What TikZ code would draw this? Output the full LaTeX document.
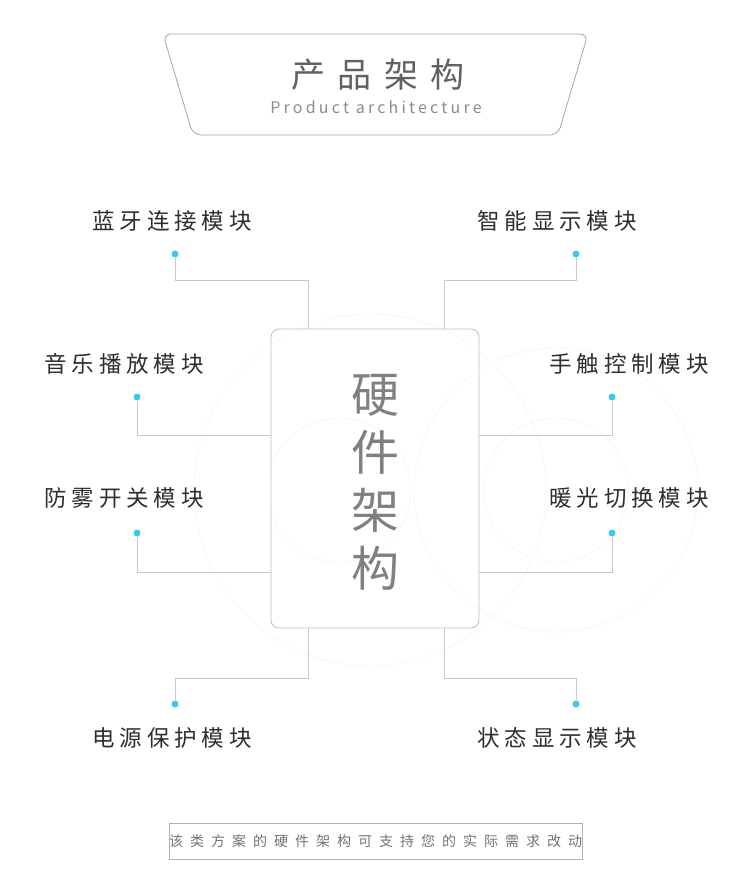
\documentclass[tikz,border=0pt]{standalone}
\usepackage{fontspec}
\newfontfamily\cjk{Noto Sans CJK SC}
\newfontfamily\cjks[LetterSpace=22]{Noto Sans CJK SC}
\newfontfamily\cjkf[LetterSpace=50]{Noto Sans CJK SC}
\newfontfamily\cjkw[LetterSpace=36]{Noto Sans CJK SC}
\newfontfamily\latw[LetterSpace=20]{Noto Sans CJK SC}
\begin{document}
\begin{tikzpicture}[x=1pt,y=-1pt,
  conn/.style={draw=black!22,line width=0.7pt},
  lbl/.style={font=\cjks\fontsize{22.5}{24}\selectfont,text=black!82,inner sep=0},
  dotc/.style={draw=none,circle,minimum size=7pt,inner sep=0}]
\definecolor{dot}{HTML}{3CC8E8}
\useasboundingbox[fill=white] (0,0) rectangle (750,885);
% watermark
\begin{scope}[draw=black!3,line width=0.8pt]
\draw (370,490) circle (176);
\draw (339,490) circle (72);
\draw (556,490) circle (72);
\draw (556,490) circle (142);
\end{scope}
% title shape
\draw[black!35,line width=0.8pt,rounded corners=8] (163,34) -- (588,34) -- (558,135) -- (193,135) -- cycle;
\node[font=\cjkw\fontsize{34}{36}\selectfont,text=black!62,inner sep=0] (t1) at (378,75) {产品架构};
\node[font=\latw\fontsize{16}{18}\selectfont,text=black!45,inner sep=0] (t2) at (376,107) {Product architecture};
% center box
\node[draw=black!25,line width=0.8pt,rounded corners=8,minimum width=208,minimum height=299,inner sep=0] (box) at (375,478.5) {};
\node[font=\cjk\fontsize{48}{60}\selectfont,text=black!50,align=center,inner sep=0] (ct) at (375,482) {硬\\[-2pt]件\\[-2pt]架\\[-2pt]构};
% labels
\node[lbl] (l1) at (172,221) {蓝牙连接模块};
\node[lbl] (r1) at (557,221) {智能显示模块};
\node[lbl] (l2) at (124,364) {音乐播放模块};
\node[lbl] (r2) at (629,364) {手触控制模块};
\node[lbl] (l3) at (124,498) {防雾开关模块};
\node[lbl] (r3) at (629,498) {暖光切换模块};
\node[lbl] (l4) at (172,738) {电源保护模块};
\node[lbl] (r4) at (557,738) {状态显示模块};
% dots
\node[dotc,fill=dot] (d1) at (175,254) {};
\node[dotc,fill=dot] (e1) at (576,254) {};
\node[dotc,fill=dot] (d2) at (137,397) {};
\node[dotc,fill=dot] (e2) at (612,397) {};
\node[dotc,fill=dot] (d3) at (137,533) {};
\node[dotc,fill=dot] (e3) at (612,533) {};
\node[dotc,fill=dot] (d4) at (175,704) {};
\node[dotc,fill=dot] (e4) at (576,704) {};
% connectors
\draw[conn] (d1.south) -- (175,280) -| (box.north -| 308,0);
\draw[conn] (e1.south) -- (576,280) -| (box.north -| 444,0);
\draw[conn] (d2.south) |- (box.west |- 0,435);
\draw[conn] (e2.south) |- (box.east |- 0,435);
\draw[conn] (d3.south) |- (box.west |- 0,572);
\draw[conn] (e3.south) |- (box.east |- 0,572);
\draw[conn] (box.south -| 308,0) -- (308,678) -| (d4.north);
\draw[conn] (box.south -| 444,0) -- (444,678) -| (e4.north);
% footer
\node[draw=black!30,line width=0.7pt,minimum width=411,minimum height=36,inner sep=0,font=\cjkf\fontsize{14}{16}\selectfont,text=black!55] (ft) at (375.5,841) {该类方案的硬件架构可支持您的实际需求改动};
\end{tikzpicture}
\end{document}
